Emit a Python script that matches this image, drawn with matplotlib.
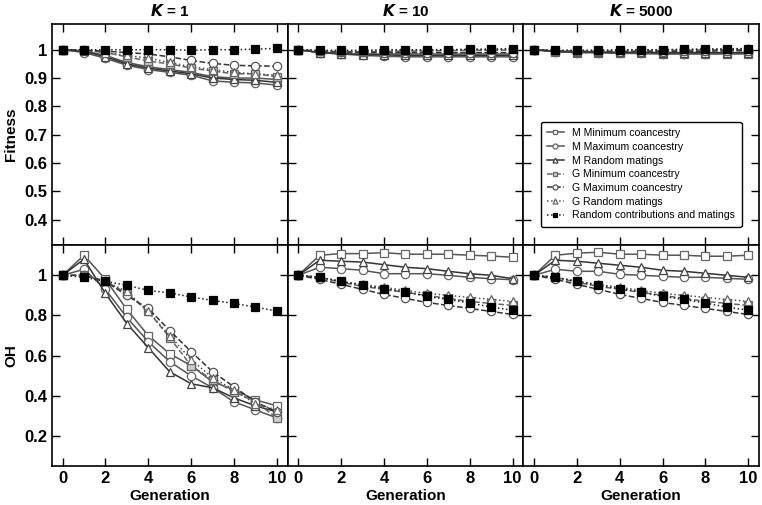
import numpy as np
import matplotlib.pyplot as plt

gen = np.arange(0, 11)
titles = ["1", "10", "5000"]
labels = ["M Minimum coancestry", "M Maximum coancestry", "M Random matings",
          "G Minimum coancestry", "G Maximum coancestry", "G Random matings",
          "Random contributions and matings"]

# fitness, one list per scenario (K = 1, 10, 5000)
fit_k1 = [
    [1, 0.995, 0.98, 0.955, 0.94, 0.93, 0.92, 0.905, 0.90, 0.90, 0.895],
    [1, 0.99, 0.97, 0.945, 0.93, 0.92, 0.91, 0.89, 0.885, 0.883, 0.875],
    [1, 0.995, 0.975, 0.95, 0.935, 0.925, 0.915, 0.90, 0.895, 0.892, 0.885],
    [1, 0.998, 0.99, 0.975, 0.96, 0.95, 0.935, 0.925, 0.915, 0.915, 0.905],
    [1, 0.998, 0.995, 0.99, 0.985, 0.975, 0.962, 0.952, 0.945, 0.943, 0.942],
    [1, 0.998, 0.99, 0.98, 0.97, 0.955, 0.94, 0.93, 0.92, 0.915, 0.91],
    [1, 1, 1, 1, 1, 1, 0.998, 1, 1, 1.002, 1.005],
]
fit_k10 = [
    [1, 0.99, 0.985, 0.985, 0.985, 0.985, 0.985, 0.985, 0.985, 0.985, 0.985],
    [1, 0.99, 0.985, 0.98, 0.977, 0.975, 0.975, 0.975, 0.975, 0.975, 0.975],
    [1, 0.99, 0.986, 0.983, 0.982, 0.98, 0.98, 0.98, 0.98, 0.98, 0.98],
    [1, 0.995, 0.993, 0.993, 0.994, 0.995, 0.996, 0.997, 0.998, 0.998, 0.999],
    [1, 0.994, 0.992, 0.991, 0.99, 0.99, 0.99, 0.99, 0.99, 0.99, 0.99],
    [1, 0.996, 0.995, 0.995, 0.996, 0.997, 0.998, 0.999, 1.0, 1.0, 1.002],
    [1, 0.998, 0.998, 0.998, 1.0, 1.0, 1.0, 1.0, 1.002, 1.002, 1.004],
]
fit_k5000 = [
    [1, 0.993, 0.99, 0.99, 0.988, 0.987, 0.985, 0.985, 0.985, 0.985, 0.985],
    [1, 0.993, 0.99, 0.99, 0.987, 0.987, 0.986, 0.986, 0.986, 0.987, 0.988],
    [1, 0.995, 0.993, 0.992, 0.991, 0.991, 0.99, 0.99, 0.99, 0.99, 0.99],
    [1, 0.996, 0.995, 0.995, 0.995, 0.996, 0.997, 0.998, 0.999, 1.0, 1.0],
    [1, 0.995, 0.993, 0.992, 0.992, 0.992, 0.993, 0.994, 0.995, 0.996, 0.997],
    [1, 0.997, 0.997, 0.997, 0.998, 0.999, 1.0, 1.001, 1.002, 1.003, 1.005],
    [1, 0.998, 0.998, 0.998, 1.0, 1.0, 1.0, 1.001, 1.002, 1.002, 1.004],
]

# OH
oh_k1 = [
    [1, 1.10, 0.98, 0.83, 0.70, 0.61, 0.55, 0.47, 0.43, 0.38, 0.35],
    [1, 1.03, 0.93, 0.79, 0.67, 0.57, 0.50, 0.44, 0.37, 0.33, 0.29],
    [1, 1.08, 0.91, 0.76, 0.64, 0.52, 0.46, 0.44, 0.39, 0.35, 0.32],
    [1, 1.00, 0.97, 0.91, 0.82, 0.69, 0.55, 0.48, 0.42, 0.37, 0.29],
    [1, 1.00, 0.97, 0.90, 0.835, 0.725, 0.62, 0.52, 0.445, 0.37, 0.32],
    [1, 1.00, 0.97, 0.92, 0.82, 0.70, 0.58, 0.49, 0.43, 0.36, 0.33],
    [1, 0.99, 0.97, 0.95, 0.925, 0.912, 0.892, 0.875, 0.86, 0.842, 0.822],
]
oh_k10 = [
    [1, 1.10, 1.108, 1.108, 1.113, 1.105, 1.105, 1.105, 1.10, 1.096, 1.09],
    [1, 1.04, 1.033, 1.025, 1.008, 1.008, 1.008, 1.0, 0.99, 0.983, 0.978],
    [1, 1.075, 1.07, 1.066, 1.053, 1.04, 1.033, 1.02, 1.008, 1.0, 0.983],
    [1, 0.99, 0.965, 0.945, 0.93, 0.915, 0.90, 0.885, 0.87, 0.86, 0.85],
    [1, 0.98, 0.955, 0.93, 0.905, 0.885, 0.865, 0.85, 0.835, 0.82, 0.805],
    [1, 0.99, 0.97, 0.955, 0.94, 0.925, 0.91, 0.90, 0.89, 0.88, 0.87],
    [1, 0.99, 0.97, 0.95, 0.934, 0.917, 0.895, 0.88, 0.862, 0.842, 0.826],
]
oh_k5000 = [
    [1, 1.10, 1.11, 1.115, 1.105, 1.105, 1.10, 1.10, 1.095, 1.095, 1.10],
    [1, 1.03, 1.02, 1.02, 1.005, 1.0, 0.995, 0.99, 0.99, 0.985, 0.98],
    [1, 1.075, 1.07, 1.06, 1.05, 1.04, 1.025, 1.02, 1.01, 1.0, 0.99],
    [1, 0.99, 0.965, 0.945, 0.93, 0.915, 0.90, 0.885, 0.87, 0.86, 0.85],
    [1, 0.98, 0.955, 0.93, 0.905, 0.885, 0.865, 0.85, 0.835, 0.82, 0.805],
    [1, 0.99, 0.97, 0.955, 0.94, 0.925, 0.91, 0.90, 0.89, 0.88, 0.87],
    [1, 0.99, 0.97, 0.95, 0.934, 0.917, 0.895, 0.88, 0.862, 0.842, 0.826],
]

styles = [
    dict(ls='-', marker='s', color='#555555', mfc='white', mec='#666666'),
    dict(ls='-', marker='o', color='#555555', mfc='white', mec='#666666'),
    dict(ls='-', marker='^', color='#333333', mfc='white', mec='#444444'),
    dict(ls='--', marker='s', color='#666666', mfc='#cccccc', mec='#666666'),
    dict(ls='--', marker='o', color='#333333', mfc='white', mec='#555555'),
    dict(ls=':', marker='^', color='#555555', mfc='white', mec='#666666'),
    dict(ls=':', marker='s', color='#222222', mfc='black', mec='black'),
]

plt.rcParams['font.family'] = 'Liberation Sans'
plt.rcParams['font.weight'] = 'bold'

fig, axes = plt.subplots(2, 3, figsize=(7.62, 5.05), dpi=100, sharex=True, sharey='row')
fig.subplots_adjust(left=0.068, right=0.996, top=0.952, bottom=0.077, wspace=0, hspace=0)

fit_all = [fit_k1, fit_k10, fit_k5000]
oh_all = [oh_k1, oh_k10, oh_k5000]

for j in range(3):
    for row, data in enumerate([fit_all[j], oh_all[j]]):
        ax = axes[row, j]
        for i in range(7):
            ax.plot(gen, data[i], lw=1.1, ms=6, mew=0.9, label=labels[i], **styles[i])
        ax.tick_params(direction='in', top=True, right=True, length=6, width=1,
                       labelsize=12)
        for sp in ax.spines.values():
            sp.set_linewidth(1.2)
    axes[0, j].set_title("$K$ = " + titles[j], fontsize=11, fontweight='bold')
    axes[1, j].set_xlabel("Generation", fontsize=11, fontweight='bold', labelpad=2)

axes[0, 0].set_xlim(-0.5, 10.5)
axes[0, 0].set_xticks([0, 2, 4, 6, 8, 10])
axes[0, 0].set_ylim(0.31, 1.09)
axes[0, 0].set_yticks([0.4, 0.5, 0.6, 0.7, 0.8, 0.9, 1.0])
axes[0, 0].set_yticklabels(["0.4", "0.5", "0.6", "0.7", "0.8", "0.9", "1"])
axes[1, 0].set_ylim(0.05, 1.15)
axes[1, 0].set_yticks([0.2, 0.4, 0.6, 0.8, 1.0])
axes[1, 0].set_yticklabels(["0.2", "0.4", "0.6", "0.8", "1"])
axes[0, 0].set_ylabel("Fitness", fontsize=11, fontweight='bold')
axes[1, 0].set_ylabel("OH", fontsize=11, fontweight='bold')

leg = axes[0, 2].legend(loc='lower center', bbox_to_anchor=(0.5, 0.06),
                        markerscale=0.6, handlelength=1.6, labelspacing=0.35,
                        borderpad=0.6, fancybox=True, edgecolor='black', framealpha=1,
                        prop={'size': 7.6, 'weight': 'normal'})
leg.get_frame().set_linewidth(1.0)

plt.savefig("out.png", dpi=100)
